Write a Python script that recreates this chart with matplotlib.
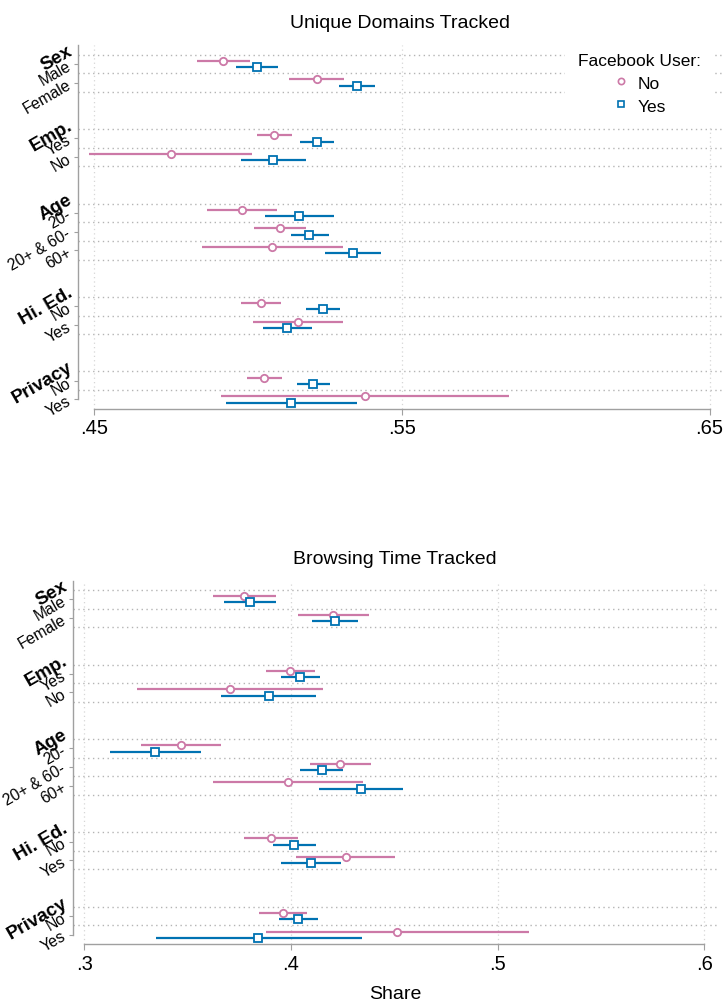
import numpy as np
import matplotlib
matplotlib.use('Agg')
import matplotlib.pyplot as plt
from matplotlib.lines import Line2D
from matplotlib.transforms import blended_transform_factory

plt.rcParams['font.family'] = ['Liberation Sans', 'DejaVu Sans']

# groupes et catégories (de haut en bas)
groups = ['Sex', 'Emp.', 'Age', 'Hi. Ed.', 'Privacy']
categories = [['Male', 'Female'],
              ['Yes', 'No'],
              ['20-', '20+ & 60-', '60+'],
              ['No', 'Yes'],
              ['No', 'Yes']]

# Unique Domains Tracked : estimation, borne basse, borne haute
dom_no_est = [0.4921, 0.5225, 0.5086, 0.4750, 0.4982, 0.5105, 0.5079, 0.5043, 0.5164, 0.5054, 0.5380]
dom_no_lo = [0.4837, 0.5134, 0.5030, 0.4486, 0.4869, 0.5022, 0.4852, 0.4978, 0.5018, 0.4999, 0.4913]
dom_no_hi = [0.5008, 0.5314, 0.5143, 0.5015, 0.5096, 0.5189, 0.5308, 0.5108, 0.5310, 0.5111, 0.5849]
dom_yes_est = [0.5031, 0.5354, 0.5225, 0.5083, 0.5168, 0.5200, 0.5342, 0.5243, 0.5129, 0.5212, 0.5142]
dom_yes_lo = [0.4963, 0.5295, 0.5171, 0.4978, 0.5057, 0.5140, 0.5251, 0.5189, 0.5051, 0.5160, 0.4931]
dom_yes_hi = [0.5098, 0.5414, 0.5280, 0.5190, 0.5280, 0.5263, 0.5433, 0.5299, 0.5209, 0.5267, 0.5355]

# Browsing Time Tracked
time_no_est = [0.3774, 0.4205, 0.3997, 0.3703, 0.3468, 0.4239, 0.3985, 0.3902, 0.4265, 0.3961, 0.4515]
time_no_lo = [0.3624, 0.4035, 0.3879, 0.3253, 0.3274, 0.4092, 0.3624, 0.3773, 0.4024, 0.3847, 0.3879]
time_no_hi = [0.3927, 0.4376, 0.4115, 0.4153, 0.3663, 0.4387, 0.4347, 0.4032, 0.4505, 0.4077, 0.5151]
time_yes_est = [0.3802, 0.4214, 0.4045, 0.3892, 0.3343, 0.4149, 0.4337, 0.4015, 0.4095, 0.4035, 0.3842]
time_yes_lo = [0.3677, 0.4103, 0.3952, 0.3663, 0.3124, 0.4045, 0.4135, 0.3914, 0.3952, 0.3942, 0.3345]
time_yes_hi = [0.3927, 0.4326, 0.4142, 0.4122, 0.3566, 0.4253, 0.4543, 0.4120, 0.4242, 0.4129, 0.4342]

dom_ticks = [0.45, 0.55, 0.65]
dom_ticklabels = ['.45', '.55', '.65']
time_ticks = [0.3, 0.4, 0.5, 0.6]
time_ticklabels = ['.3', '.4', '.5', '.6']

pink = '#CC79A7'
blue = '#0072B2'
axis_grey = '#a0a0a0'

# positions des lignes : 2 lignes vides entre les groupes
group_start = []
ypos = []
labels = []
row = 0
for g, cats in zip(groups, categories):
    group_start.append(row)
    for i, c in enumerate(cats):
        ypos.append(row + i + 0.5)
        labels.append(c)
    row += len(cats) + 2
ypos = np.array(ypos)
ymax = ypos[-1] + 0.5
off = 0.17

fig = plt.figure(figsize=(7.25, 10.04), dpi=100)
W, H = 725.0, 1004.0


def panel(ax, no, yes, ticks, ticklabels, xlim, title):
    # grille horizontale aux frontières des lignes
    for start, cats in zip(group_start, categories):
        for k in range(len(cats) + 1):
            if start + k < ymax:
                ax.axhline(start + k, color='#b4b4b4', lw=1.0, ls=(0, (1, 2.5)), zorder=1)
    for t in ticks:
        ax.axvline(t, color='#d6d6d6', lw=0.9, ls=(0, (1, 2.5)), zorder=1)

    for (est, lo, hi), col, mk, dy in [(no, pink, 'o', -off), (yes, blue, 's', off)]:
        est = np.array(est)
        ax.errorbar(est, ypos + dy, xerr=[est - np.array(lo), np.array(hi) - est],
                    fmt=mk, color=col, mfc='white', mec=col, ms=5.3, mew=1.3,
                    elinewidth=1.6, capsize=0, zorder=3)

    ax.set_xlim(*xlim)
    ax.set_ylim(ymax, -0.5)
    ax.set_xticks(ticks)
    ax.set_xticklabels(ticklabels, fontsize=14.5)
    ax.set_yticks(ypos)
    ax.set_yticklabels(labels, fontsize=11.3, rotation=30, ha='right', va='center',
                       rotation_mode='anchor')
    ax.tick_params(axis='x', length=4, color=axis_grey, pad=3)
    ax.tick_params(axis='y', length=3, color=axis_grey, pad=3)
    for s in ['top', 'right']:
        ax.spines[s].set_visible(False)
    for s in ['left', 'bottom']:
        ax.spines[s].set_color(axis_grey)
        ax.spines[s].set_linewidth(1.0)
    ax.spines['bottom'].set_bounds(ticks[0], ticks[-1])
    ax.spines['left'].set_bounds(-0.5, ypos[-1])

    trans = blended_transform_factory(ax.transAxes, ax.transData)
    for g, start in zip(groups, group_start):
        ax.text(-0.011, start - 0.3, g, transform=trans, rotation=30, ha='right', va='center',
                rotation_mode='anchor', fontsize=13.5, fontweight='bold')
    ax.set_title(title, fontsize=14, pad=13)


ax1 = fig.add_axes([78 / W, 1 - 409.7 / H, 644 / W, 363.4 / H])
panel(ax1, (dom_no_est, dom_no_lo, dom_no_hi), (dom_yes_est, dom_yes_lo, dom_yes_hi),
      dom_ticks, dom_ticklabels, (0.45 - 15.7 / 3078, 0.45 + 628 / 3078), 'Unique Domains Tracked')

handles = [Line2D([], [], marker='o', ls='none', mfc='white', mec=pink, ms=4.5, mew=1.2),
           Line2D([], [], marker='s', ls='none', mfc='white', mec=blue, ms=4.5, mew=1.2)]
leg = ax1.legend(handles, ['No', 'Yes'], title='Facebook User:', loc='upper right',
                 bbox_to_anchor=(724 / W, 1 - 31 / H), bbox_transform=fig.transFigure,
                 fontsize=12.5, title_fontsize=12.5, frameon=True, facecolor='white',
                 edgecolor='none', framealpha=1, fancybox=False, borderpad=0.8,
                 handlelength=0.8, handletextpad=0.6, labelspacing=0.45, alignment='center')

ax2 = fig.add_axes([73 / W, 1 - 945 / H, 644 / W, 363.3 / H])
panel(ax2, (time_no_est, time_no_lo, time_no_hi), (time_yes_est, time_yes_lo, time_yes_hi),
      time_ticks, time_ticklabels, (0.3 - 11.3 / 2067, 0.3 + 633 / 2067), 'Browsing Time Tracked')
ax2.set_xlabel('Share', fontsize=14, labelpad=9)

fig.savefig('out.png', dpi=100)
